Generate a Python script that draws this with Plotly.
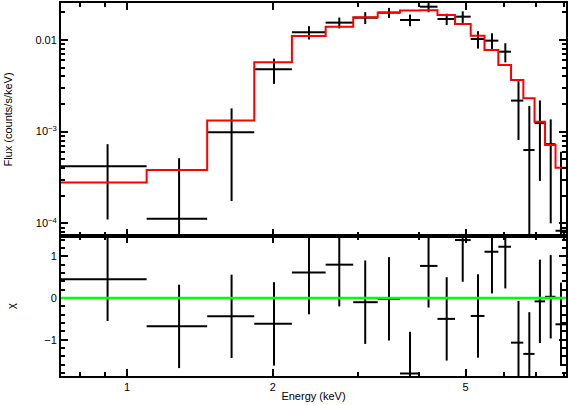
import numpy as np
import plotly.graph_objects as go

# ---- data ----
e_lo = [0.730, 1.097, 1.463, 1.830, 2.189, 2.570, 2.930, 3.292, 3.660, 4.025,
        4.374, 4.755, 5.123, 5.470, 5.842, 6.206, 6.580, 6.940, 7.295, 7.668]
e_hi = [1.097, 1.463, 1.830, 2.189, 2.570, 2.930, 3.292, 3.660, 4.025, 4.374,
        4.755, 5.123, 5.470, 5.842, 6.206, 6.580, 6.940, 7.295, 7.668, 8.060]
energy = [0.911, 1.280, 1.643, 2.010, 2.374, 2.742, 3.102, 3.473, 3.838, 4.192,
          4.570, 4.932, 5.304, 5.668, 6.040, 6.430, 6.770, 7.120, 7.495, 7.870]
flux = [4.2e-4, 1.12e-4, 9.85e-4, 4.79e-3, 0.01213, 0.01545, 0.0175, 0.01986, 0.01652, 0.02306,
        0.01694, 0.01795, 0.01025, 0.00983, 0.00745, 2.18e-3, 6.3e-4, 1.24e-3, 7.3e-4, 8.3e-5]
flux_err = [3.1e-4, 4.0e-4, 8.1e-4, 1.47e-3, 0.0020, 0.0021, 0.0026, 0.0025, 0.0024, 0.0030,
            0.0024, 0.0026, 0.0022, 0.0020, 0.00175, 1.37e-3, 1.27e-3, 9.5e-4, 6.3e-4, 5.2e-4]
model = [2.78e-4, 3.82e-4, 1.32e-3, 5.71e-3, 0.01106, 0.01396, 0.0177, 0.01987, 0.0209, 0.0211,
         0.01874, 0.01493, 0.01114, 0.00778, 0.00533, 0.00366, 0.00231, 1.285e-3, 7.16e-4, 4.04e-4]
chi = [0.45, -0.68, -0.44, -0.62, 0.61, 0.80, -0.10, -0.02, -1.81, 0.77,
       -0.50, 1.39, -0.43, 1.11, 1.23, -1.07, -1.34, -0.08, 0.03, -0.63]
chi_err = [1.0] * 20

x_range = [0.73, 8.06]
flux_range = [7.27e-5, 0.0253]
chi_range = [-1.87, 1.487]

# ---- derived ----
e_lo_a = np.array(e_lo)
e_hi_a = np.array(e_hi)
en = np.array(energy)
ex_plus = e_hi_a - en
ex_minus = en - e_lo_a

step_x = list(e_lo) + [e_hi[-1]]
step_y = list(model) + [model[-1]]

FONT = "Liberation Sans, Arial, sans-serif"
fig = go.Figure()

errx = dict(type="data", symmetric=False, array=ex_plus, arrayminus=ex_minus,
            color="black", thickness=2, width=0)

fig.add_trace(go.Scatter(
    x=energy, y=flux, mode="markers", marker=dict(size=0.1, color="black"),
    error_x=errx,
    error_y=dict(type="data", array=flux_err, color="black", thickness=2, width=0),
    xaxis="x2", yaxis="y", showlegend=False, hoverinfo="skip"))

fig.add_trace(go.Scatter(
    x=step_x, y=step_y, mode="lines", line=dict(color="#ff0000", width=2, shape="hv"),
    xaxis="x2", yaxis="y", showlegend=False, hoverinfo="skip"))

fig.add_trace(go.Scatter(
    x=energy, y=chi, mode="markers", marker=dict(size=0.1, color="black"),
    error_x=errx,
    error_y=dict(type="data", array=chi_err, color="black", thickness=2, width=0),
    xaxis="x", yaxis="y2", showlegend=False, hoverinfo="skip"))

fig.add_shape(type="line", xref="x domain", yref="y2", x0=0, x1=1, y0=0, y1=0,
              line=dict(color="#00ff00", width=2.5))

split = 0.3753
lx = [np.log10(x_range[0]), np.log10(x_range[1])]
x_minor = [0.8, 0.9, 3, 4, 6, 7, 8]
y_minor = [k * 10.0 ** n for n in range(-5, -1) for k in range(2, 10)]
chi_minor = [v / 10 for v in range(-18, 16, 2) if v % 10 != 0]

common_x = dict(type="log", range=lx, showline=True, linecolor="black", linewidth=2,
                mirror="ticks", ticks="inside", ticklen=7, tickwidth=1.5, tickcolor="black",
                tickvals=[1, 2, 5], ticktext=["1", "2", "5"],
                minor=dict(tickvals=x_minor, ticklen=4, tickwidth=1.5, tickcolor="black", ticks="inside"),
                showgrid=False, zeroline=False, automargin=False)

fig.update_layout(
    width=568, height=405,
    margin=dict(l=61, r=2, t=3, b=29, autoexpand=False),
    paper_bgcolor="white", plot_bgcolor="white",
    font=dict(family=FONT, size=11, color="black"),
    xaxis=dict(**common_x, anchor="y2",
               title=dict(text="Energy (keV)", standoff=0, font=dict(size=11)),
               tickfont=dict(size=11)),
    xaxis2=dict(**common_x, anchor="y", matches="x", showticklabels=False),
    yaxis=dict(type="log", domain=[split, 1], automargin=False,
               range=[np.log10(flux_range[0]), np.log10(flux_range[1])],
               showline=True, linecolor="black", linewidth=2, mirror="ticks",
               ticks="inside", ticklen=7, tickwidth=1.5, tickcolor="black",
               tickvals=[1e-4, 1e-3, 1e-2],
               ticktext=["10<sup>−4</sup>", "10<sup>−3</sup>", "0.01"],
               minor=dict(tickvals=y_minor, ticklen=4, tickwidth=1.5, tickcolor="black", ticks="inside"),
               showgrid=False, zeroline=False, tickfont=dict(size=11),
               title=dict(text="Flux (counts/s/keV)", standoff=21, font=dict(size=11))),
    yaxis2=dict(domain=[0, split], range=chi_range, automargin=False,
                showline=True, linecolor="black", linewidth=2, mirror="ticks",
                ticks="inside", ticklen=7, tickwidth=1.5, tickcolor="black",
                tickvals=[-1, 0, 1], ticktext=["−1", "0", "1"],
                minor=dict(tickvals=chi_minor, ticklen=4, tickwidth=1.5, tickcolor="black", ticks="inside"),
                showgrid=False, zeroline=False, tickfont=dict(size=11),
                title=dict(text="χ", standoff=26, font=dict(size=11))),
)

fig.write_html("out.html", config={"displayModeBar": False},
               post_script="document.body.style.margin='0';document.body.style.overflow='hidden';")
